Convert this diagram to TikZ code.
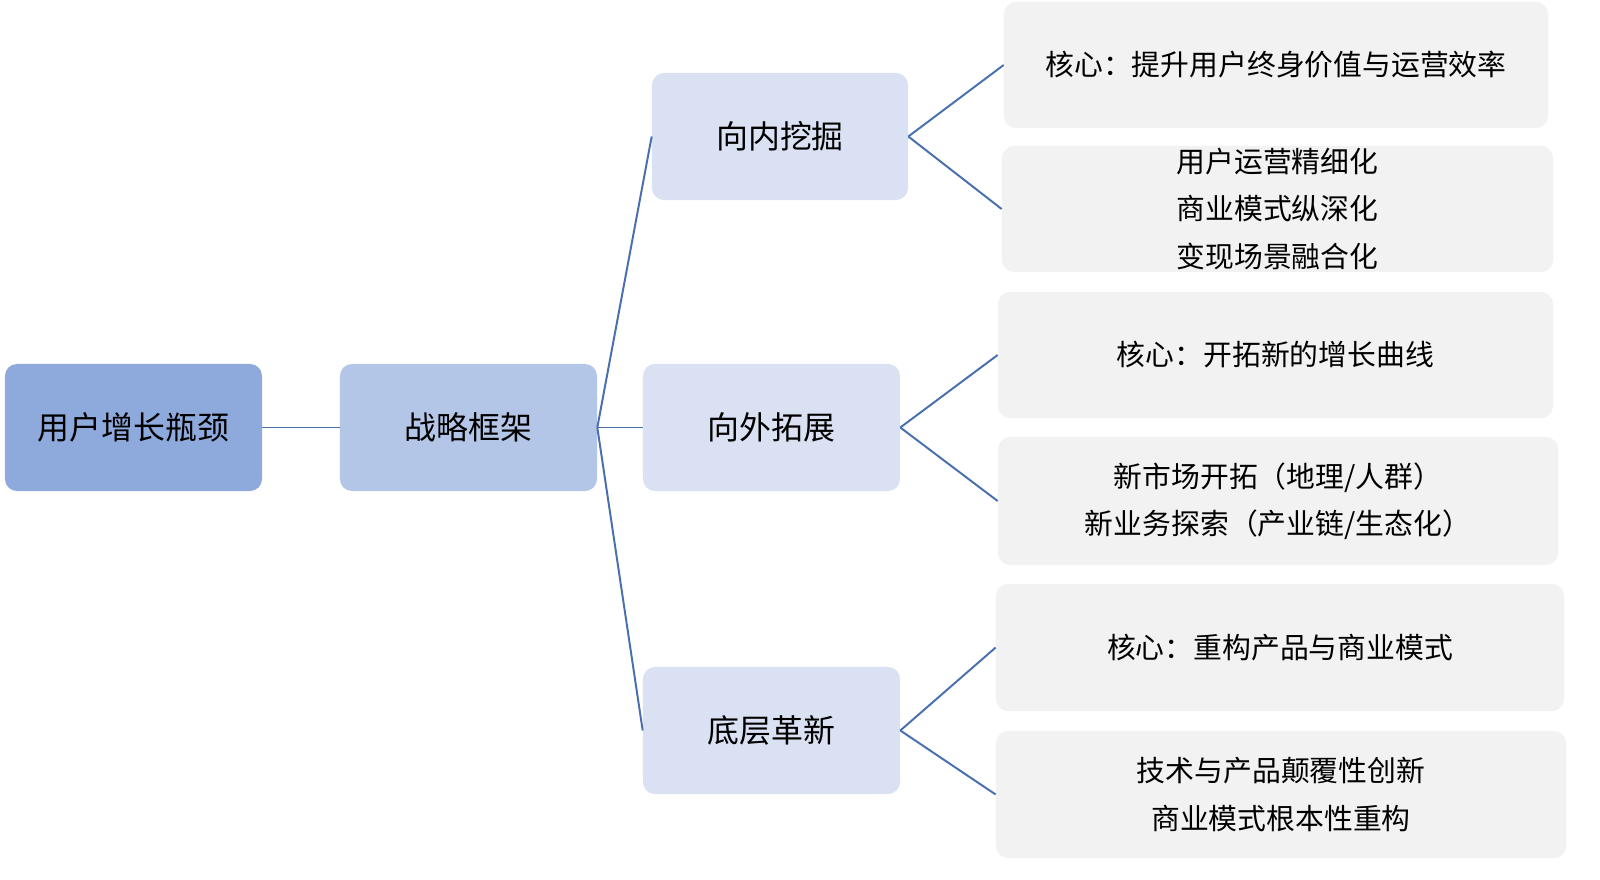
\documentclass[tikz,border=0pt]{standalone}
\usepackage{fontspec}
\newfontfamily\cjk{Noto Sans CJK SC}
\definecolor{lvA}{HTML}{8EA9DB}
\definecolor{lvB}{HTML}{B4C6E7}
\definecolor{lvC}{HTML}{D9E1F2}
\definecolor{lvD}{HTML}{F2F2F2}
\definecolor{lineblue}{HTML}{4A6FAE}
\tikzset{
  box/.style={rounded corners=0.3cm, draw=none, inner sep=0pt, align=center, text=black},
  bigtxt/.style={font=\cjk\fontsize{22.7}{33}\selectfont},
  smalltxt/.style={font=\cjk\fontsize{20.5}{33.5}\selectfont},
  conn/.style={draw=lineblue, line width=1.4pt},
}
\begin{document}
\begin{tikzpicture}[x=0.025cm,y=-0.025cm]
\useasboundingbox (0,0) rectangle (1600,880);
% main boxes
\node[box,bigtxt,fill=lvA,minimum width=6.425cm,minimum height=3.175cm] (a) at (133.5,427.5) {用户增长瓶颈};
\node[box,bigtxt,fill=lvB,minimum width=6.425cm,minimum height=3.175cm] (b) at (468.5,427.5) {战略框架};
\node[box,bigtxt,fill=lvC,minimum width=6.4cm,minimum height=3.175cm] (c1) at (780,136.5) {向内挖掘};
\node[box,bigtxt,fill=lvC,minimum width=6.425cm,minimum height=3.175cm] (c2) at (771.5,427.5) {向外拓展};
\node[box,bigtxt,fill=lvC,minimum width=6.425cm,minimum height=3.175cm] (c3) at (771.5,730.5) {底层革新};
% detail boxes
\node[box,smalltxt,fill=lvD,minimum width=13.6cm,minimum height=3.15cm] (d1) at (1276,65) {核心：提升用户终身价值与运营效率};
\node[box,smalltxt,fill=lvD,minimum width=13.775cm,minimum height=3.15cm] (d2) at (1277.5,209) {用户运营精细化\\商业模式纵深化\\变现场景融合化};
\node[box,smalltxt,fill=lvD,minimum width=13.875cm,minimum height=3.15cm] (d3) at (1275.5,355) {核心：开拓新的增长曲线};
\node[box,smalltxt,fill=lvD,minimum width=14cm,minimum height=3.2cm] (d4) at (1278,501) {新市场开拓（地理/人群）\\新业务探索（产业链/生态化）};
\node[box,smalltxt,fill=lvD,minimum width=14.2cm,minimum height=3.175cm] (d5) at (1280,647.5) {核心：重构产品与商业模式};
\node[box,smalltxt,fill=lvD,minimum width=14.25cm,minimum height=3.175cm] (d6) at (1281,794.5) {技术与产品颠覆性创新\\商业模式根本性重构};
% connectors
\draw[conn] (a.east) -- (b.west);
\draw[conn] (b.east) -- (c1.west);
\draw[conn] (b.east) -- (c2.west);
\draw[conn] (b.east) -- (c3.west);
\draw[conn] (c1.east) -- (d1.west);
\draw[conn] (c1.east) -- (d2.west);
\draw[conn] (c2.east) -- (d3.west);
\draw[conn] (c2.east) -- (d4.west);
\draw[conn] (c3.east) -- (d5.west);
\draw[conn] (c3.east) -- (d6.west);
\end{tikzpicture}
\end{document}
